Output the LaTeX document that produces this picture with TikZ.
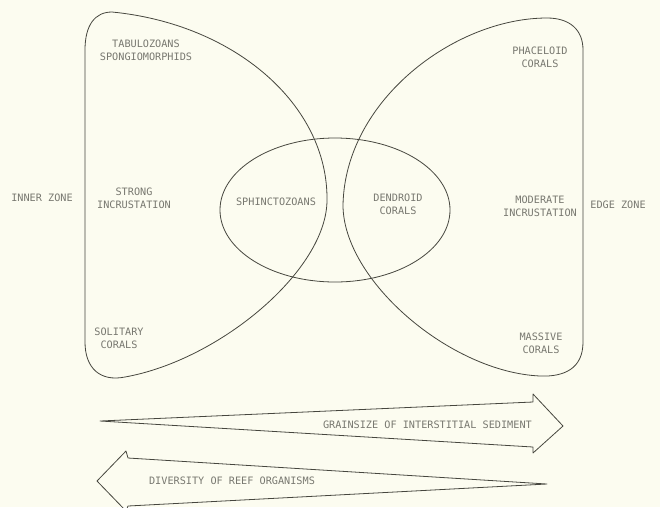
\documentclass[tikz,border=0pt]{standalone}
\usepackage{fontspec}
\newfontfamily\letterfont{DejaVu Sans Mono}
\definecolor{bgc}{RGB}{252,252,240}
\definecolor{penc}{RGB}{70,70,62}
\definecolor{txtc}{RGB}{120,120,112}
\begin{document}
\begin{tikzpicture}[x=1pt,y=-1pt,
  outline/.style={draw=penc,line width=0.8pt,line join=round},
  lbl/.style={text=txtc,font=\letterfont\fontsize{10.2}{13}\selectfont,align=center,inner sep=0pt}]
\fill[bgc] (0,0) rectangle (660,507);
\useasboundingbox (0,0) rectangle (660,507);
% left region
\draw[outline] (85,342) -- (85,50) .. controls (85,25) and (95,12) .. (112,12)
  .. controls (235,24) and (328,105) .. (327,200)
  .. controls (327,270) and (220,360) .. (125,377)
  .. controls (100,382) and (85,368) .. cycle;
% right region
\draw[outline] (583,50) -- (583,342) .. controls (583,368) and (565,377) .. (540,376)
  .. controls (450,372) and (343,280) .. (343,205)
  .. controls (345,100) and (455,18) .. (547,18)
  .. controls (570,18) and (583,30) .. cycle;
% central ellipse
\draw[outline] (335,210) ellipse [x radius=115, y radius=72];
% arrows
\begin{scope}
\clip (0,0) rectangle (660,507);
\draw[outline] (100,421) -- (533,402) -- (533,394) -- (563,426) -- (533,453) -- (533,447) -- cycle;
\draw[outline] (547,484) -- (128,458) -- (126,451) -- (97,481) -- (126,511) -- (128,506) -- cycle;
\end{scope}
% labels
\node[lbl] (tab) at (146,50) {TABULOZOANS\\SPONGIOMORPHIDS};
\node[lbl] (inner) at (42,198) {INNER ZONE};
\node[lbl] (strong) at (134,198) {STRONG\\INCRUSTATION};
\node[lbl] (sphinc) at (276,202) {SPHINCTOZOANS};
\node[lbl] (dendro) at (398,204) {DENDROID\\CORALS};
\node[lbl] (moder) at (540,206) {MODERATE\\INCRUSTATION};
\node[lbl] (edge) at (618,205) {EDGE ZONE};
\node[lbl] (phac) at (540,57) {PHACELOID\\CORALS};
\node[lbl] (solit) at (119,338) {SOLITARY\\CORALS};
\node[lbl] (massive) at (541,343) {MASSIVE\\CORALS};
\node[lbl,anchor=east] (grain) at (532,425) {GRAINSIZE OF INTERSTITIAL SEDIMENT};
\node[lbl] (divers) at (232,481) {DIVERSITY OF REEF ORGANISMS};
\end{tikzpicture}
\end{document}
